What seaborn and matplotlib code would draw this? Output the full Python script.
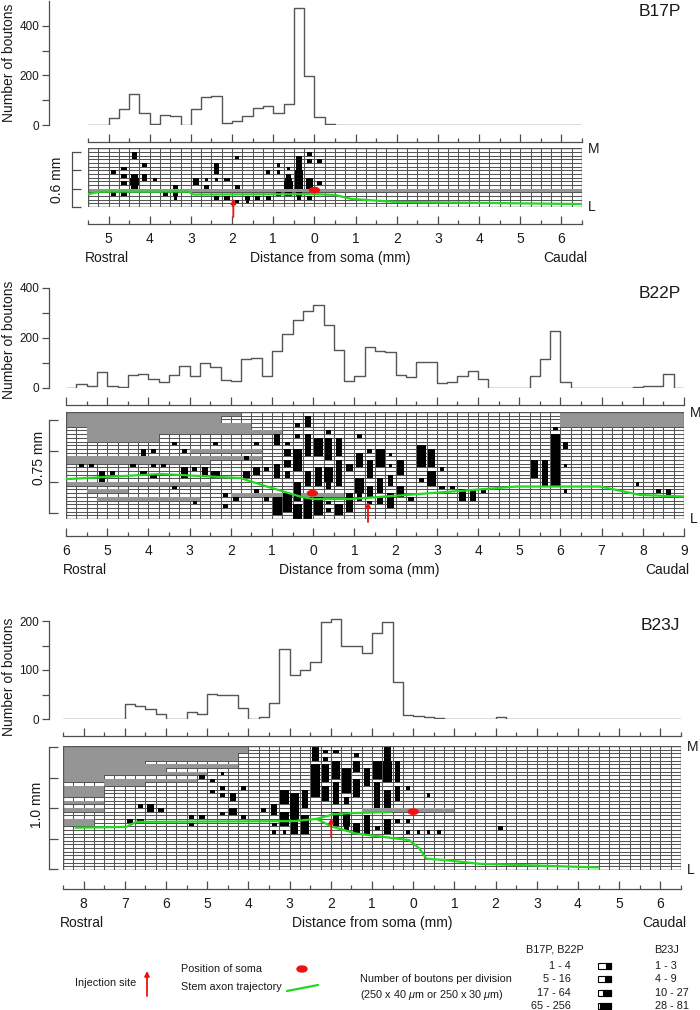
import numpy as np
import pandas as pd
import matplotlib
matplotlib.use("Agg")
import matplotlib.pyplot as plt
from matplotlib import font_manager
import seaborn as sns
from matplotlib.patches import Ellipse, Rectangle

# ------------------------------------------------------------------ data
# boutons per 250 um bin, read from the rostral edge of each map
b17p_counts = [0, 0, 27, 64, 123, 47, 4, 42, 35, 0, 64, 111, 117, 8, 17, 36,
               70, 75, 50, 85, 471, 199, 32, 3, 1, 0, 0, 0, 0, 0, 0, 0,
               0, 0, 0, 0, 0, 0, 0, 0, 0, 0, 0, 0, 0, 0, 0, 0]
b22p_counts = [0, 16, 9, 63, 8, 4, 52, 57, 36, 25, 53, 89, 49, 99, 84, 33,
               28, 116, 121, 47, 149, 216, 271, 307, 333, 251, 153, 27, 47, 163, 147, 145,
               53, 43, 104, 104, 20, 23, 49, 69, 36, 0, 0, 0, 0, 49, 116, 227,
               23, 0, 0, 0, 0, 0, 0, 3, 7, 9, 56, 2]
b23j_counts = [0, 0, 0, 0, 0, 0, 31, 26, 20, 10, 0, 0, 14, 10, 52, 50,
               48, 22, 0, 5, 32, 142, 89, 100, 116, 197, 205, 149, 149, 134, 175, 197,
               75, 8, 7, 5, 3, 0, 0, 0, 0, 0, 5, 0, 0, 0, 0, 0,
               0, 0, 0, 0, 0, 0, 0, 0, 0, 0, 0, 0]

# distance range of each map (mm, rostral negative)
b17p_range = (-5.5, 6.5)
b22p_range = (-6.0, 9.0)
b23j_range = (-8.5, 6.5)
b17p_rows, b22p_rows, b23j_rows = 16, 29, 34

# unreconstructed (gray) areas: first col, last col + 1, first row from top, last row + 1
b17p_gray = [(0, 48, 11, 12)]
b22p_gray = [(0, 15, 0, 4), (15, 17, 0, 1), (15, 18, 3, 4), (2, 18, 4, 6), (18, 21, 5, 6),
             (2, 9, 6, 8), (12, 19, 10, 11), (0, 14, 12, 14), (14, 19, 12, 13),
             (0, 14, 19, 20), (2, 6, 21, 22), (3, 13, 23, 24), (16, 27, 22, 23),
             (48, 60, 0, 4)]
b23j_gray = [(0, 17, 0, 4), (17, 18, 0, 2), (0, 8, 4, 8), (8, 17, 5, 6), (8, 10, 6, 8),
             (10, 14, 7, 8), (0, 4, 8, 10), (4, 8, 9, 11), (8, 13, 9, 10), (0, 4, 11, 14),
             (0, 4, 15, 16), (0, 4, 17, 18), (0, 3, 20, 22), (29, 38, 17, 18)]

# bouton cells: col, first row from top, last row from top, size class (1-4)
b17p_cells = [(4, 1, 2, 2), (5, 4, 4, 2), (3, 5, 5, 2), (2, 6, 6, 2), (3, 7, 7, 2),
              (4, 7, 7, 3), (4, 8, 9, 4), (4, 10, 10, 3), (5, 7, 8, 2), (6, 8, 8, 1),
              (3, 9, 9, 2), (2, 12, 12, 2), (3, 12, 12, 2), (7, 12, 12, 2), (8, 12, 12, 2),
              (8, 13, 13, 1), (8, 10, 10, 2), (10, 8, 8, 3), (10, 9, 9, 2), (11, 8, 8, 1),
              (11, 10, 10, 2), (12, 4, 6, 2), (12, 8, 8, 1), (13, 8, 8, 2), (14, 2, 2, 1),
              (14, 10, 10, 2), (12, 13, 13, 2), (13, 13, 13, 2), (14, 14, 14, 1),
              (15, 13, 13, 2), (15, 14, 14, 1), (16, 13, 13, 2), (17, 13, 13, 2),
              (17, 6, 6, 1), (18, 6, 6, 1), (19, 5, 5, 1), (18, 4, 4, 1), (19, 7, 7, 2),
              (19, 8, 8, 3), (19, 9, 10, 4), (20, 2, 2, 2), (20, 3, 5, 3), (20, 6, 10, 4),
              (21, 1, 1, 2), (21, 3, 3, 2), (21, 8, 10, 3), (22, 3, 3, 2), (22, 9, 9, 2),
              (18, 12, 12, 2), (19, 12, 12, 3), (20, 12, 12, 3), (20, 13, 13, 1),
              (21, 13, 13, 2)]
b22p_cells = [(1, 14, 14, 2), (2, 14, 14, 2), (3, 16, 18, 3), (4, 16, 16, 2), (6, 14, 14, 2),
              (7, 11, 11, 2), (7, 10, 10, 2), (8, 10, 10, 2), (11, 10, 10, 2), (7, 16, 16, 3),
              (8, 14, 14, 2), (8, 17, 17, 3), (9, 14, 14, 2), (10, 8, 8, 2), (10, 20, 20, 2),
              (11, 15, 17, 3), (12, 15, 15, 2), (12, 24, 24, 1), (13, 15, 16, 3), (14, 8, 8, 2),
              (14, 16, 17, 4), (15, 22, 22, 2), (15, 25, 25, 2), (16, 23, 23, 2),
              (17, 12, 12, 2), (17, 16, 17, 3), (18, 8, 8, 2), (18, 15, 16, 3), (18, 21, 21, 2),
              (19, 15, 15, 2), (19, 23, 23, 2),
              (20, 6, 8, 3), (20, 14, 17, 3), (20, 23, 27, 4),
              (21, 8, 8, 2), (21, 10, 11, 3), (21, 13, 14, 3), (21, 16, 17, 2), (21, 22, 26, 4),
              (22, 3, 3, 2), (22, 6, 6, 2), (22, 10, 15, 4), (22, 19, 23, 3), (22, 25, 28, 4),
              (23, 1, 3, 3), (23, 6, 11, 3), (23, 16, 19, 3), (23, 23, 28, 4),
              (24, 7, 11, 4), (24, 15, 19, 3), (24, 23, 27, 4),
              (25, 5, 5, 2), (25, 7, 12, 3), (25, 15, 18, 4), (25, 19, 20, 2), (25, 24, 24, 2),
              (25, 26, 26, 2), (26, 7, 11, 3), (26, 13, 19, 3), (26, 25, 27, 4),
              (27, 14, 15, 3), (27, 22, 26, 3), (28, 6, 6, 2), (28, 11, 14, 3), (28, 18, 21, 4),
              (28, 22, 23, 2), (29, 10, 10, 2), (29, 13, 17, 3), (29, 20, 22, 3), (29, 24, 24, 2),
              (30, 10, 14, 4), (30, 18, 21, 3), (30, 23, 24, 3), (31, 11, 11, 1), (31, 14, 14, 1),
              (31, 17, 19, 2), (31, 22, 25, 3), (32, 13, 16, 3), (32, 20, 22, 3), (33, 23, 23, 2),
              (34, 9, 14, 4), (34, 18, 18, 2), (35, 10, 14, 3), (35, 16, 19, 4), (36, 15, 15, 1),
              (36, 20, 20, 2), (37, 20, 20, 2), (38, 21, 23, 3), (39, 21, 23, 3), (40, 21, 21, 2),
              (45, 13, 17, 3), (46, 13, 19, 3), (47, 4, 4, 2), (47, 6, 19, 4), (48, 8, 9, 2),
              (48, 14, 14, 1), (48, 21, 21, 1), (55, 19, 19, 1), (57, 21, 21, 2), (58, 21, 22, 2)]
b23j_cells = [(7, 16, 16, 2), (8, 16, 17, 3), (9, 17, 17, 3), (6, 20, 20, 2), (7, 20, 20, 3),
              (12, 19, 19, 2), (12, 21, 21, 2), (13, 8, 8, 2), (13, 19, 19, 2), (14, 9, 9, 2),
              (14, 12, 12, 2), (15, 7, 7, 1), (15, 11, 11, 2), (15, 13, 13, 2), (15, 18, 18, 2),
              (16, 13, 14, 3), (16, 17, 18, 4), (17, 11, 11, 2), (17, 19, 19, 2), (19, 17, 17, 2),
              (20, 16, 18, 3), (20, 21, 21, 2), (20, 23, 23, 1), (21, 12, 15, 4), (21, 18, 21, 4),
              (21, 23, 23, 1), (22, 13, 19, 4), (22, 20, 23, 3), (23, 12, 16, 3), (23, 19, 23, 4),
              (24, 0, 3, 3), (25, 1, 1, 2), (25, 3, 3, 2), (26, 1, 1, 2), (28, 2, 2, 2),
              (31, 0, 3, 3), (24, 5, 13, 4), (25, 5, 9, 3), (25, 11, 14, 3), (26, 4, 8, 4),
              (26, 10, 15, 3), (27, 6, 12, 4), (27, 14, 15, 2), (28, 4, 6, 3), (28, 9, 13, 3),
              (29, 6, 10, 3), (30, 4, 8, 4), (30, 10, 16, 3), (31, 4, 9, 4), (31, 12, 16, 3),
              (32, 4, 9, 2), (32, 11, 14, 2), (33, 11, 11, 1), (35, 13, 13, 1),
              (26, 18, 21, 3), (27, 18, 21, 3), (27, 22, 22, 2), (28, 21, 23, 3), (29, 19, 23, 3),
              (30, 22, 22, 2), (31, 20, 23, 3), (32, 20, 20, 2), (33, 20, 20, 1), (33, 23, 23, 1),
              (34, 23, 23, 1), (35, 23, 23, 1), (36, 23, 23, 1), (42, 22, 22, 2)]

# stem axon trajectory: distance (mm) and height (rows above the lateral edge)
b17p_axon_x = [-5.5, -5.2, -3.06, -2.94, 0.0, 0.49, 0.9, 1.94, 6.5]
b17p_axon_y = [3.5, 4.2, 4.2, 3.4, 3.5, 3.3, 2.2, 1.4, 0.8]
b22p_axon_x = [-6.0, -3.7, -1.77, -1.12, -0.32, 0.0, 0.9, 3.33, 4.94, 6.97, 7.94, 9.0]
b22p_axon_y = [10.8, 12.2, 11.1, 8.8, 6.1, 5.4, 5.4, 7.4, 8.8, 8.8, 6.5, 6.1]
b23j_axon_x = [-8.22, -6.97, -6.72, -2.89, -2.35, -1.95, -1.38, -0.1, 0.15, 0.32, 0.8, 1.6, 4.5]
b23j_axon_y = [11.6, 11.8, 13.2, 13.4, 14.0, 11.8, 10.0, 8.2, 5.9, 3.1, 2.7, 1.7, 0.7]
b23j_branch_x = [-2.35, -1.92, -1.5, -0.55]
b23j_branch_y = [14.0, 15.3, 15.6, 15.9]

# soma position (mm, rows) and injection site (mm, arrow tail row, arrow head row)
b17p_soma = (0.0, 4.6)
b22p_soma = (-0.02, 7.0)
b23j_soma = (0.0, 16.0)
b17p_inject = (-1.97, -2.7, 2.3)
b22p_inject = (1.33, -0.8, 4.6)
b23j_inject = (-1.99, 9.0, 14.3)

size_classes = [1, 2, 3, 4]
b17p_b22p_classes = ["1 - 4", "5 - 16", "17 - 64", "65 - 256"]
b23j_classes = ["1 - 3", "4 - 9", "10 - 27", "28 - 81"]

# ------------------------------------------------------------------ style
sns.set_theme(style="ticks")
plt.rcParams['font.family'] = ['Liberation Sans', 'DejaVu Sans']
plt.rcParams['mathtext.fontset'] = 'custom'
plt.rcParams['mathtext.it'] = 'Liberation Sans:italic'
plt.rcParams['mathtext.rm'] = 'Liberation Sans'

installed = {f.name for f in font_manager.fontManager.ttflist}
if 'Liberation Sans Narrow' in installed:
    NUM_FONT, NUM_SIZE = 'Liberation Sans Narrow', 10
else:
    NUM_FONT, NUM_SIZE = 'Liberation Sans', 8.5

W, H = 700, 1010
PT = 0.72          # points per pixel at dpi 100
AX_COL = '#4d4d4d'
TXT = '#1a1a1a'
GRID_COL = '#555555'
GRAY = '#959595'
GREEN = '#22d822'
FRAC = {1: 0.35, 2: 0.5, 3: 0.65, 4: 0.85}

fig = plt.figure(figsize=(W / 100, H / 100), dpi=100)


def add_ax(x0, y0, x1, y1):
    return fig.add_axes([x0 / W, 1 - y1 / H, (x1 - x0) / W, (y1 - y0) / H])


def ftext(x, y, s, **kw):
    kw.setdefault('color', TXT)
    kw.setdefault('fontsize', 10)
    fig.text(x / W, 1 - y / H, s, **kw)


def draw_hist(box, rng, counts, ymax, spine_top, yticks, ylabels, left_out, bottom_out):
    ax = add_ax(*box)
    edges = rng[0] + 0.25 * np.arange(len(counts) + 1)
    df = pd.DataFrame({'dist': edges[:-1] + 0.125, 'boutons': counts})
    sns.histplot(data=df, x='dist', weights='boutons', bins=list(edges), element="step",
                 fill=False, color='#555555', linewidth=1.0, ax=ax)
    ax.set_xlim(*rng)
    ax.set_ylim(0, ymax)
    ax.set_xlabel('')
    ax.set_ylabel('')
    for s in ['top', 'right']:
        ax.spines[s].set_visible(False)
    ax.spines['left'].set_position(('outward', left_out * PT))
    ax.spines['left'].set_bounds(0, spine_top)
    ax.spines['bottom'].set_position(('outward', bottom_out * PT))
    for s in ['left', 'bottom']:
        ax.spines[s].set_color(AX_COL)
        ax.spines[s].set_linewidth(0.9)
    ax.set_yticks(yticks)
    ax.set_yticklabels(ylabels, fontfamily=NUM_FONT, fontsize=NUM_SIZE)
    ax.tick_params(axis='y', direction='out', length=7 * PT, width=0.9, color=AX_COL,
                   labelcolor=TXT, pad=2)
    ax.set_xticks(np.arange(np.ceil(rng[0]), rng[1] + 0.01, 1.0))
    ax.set_xticks(np.arange(rng[0], rng[1] + 0.01, 0.5), minor=True)
    ax.tick_params(axis='x', which='major', direction='in', length=8 * PT, width=0.9,
                   color=AX_COL, labelbottom=False)
    ax.tick_params(axis='x', which='minor', direction='in', length=4 * PT, width=0.9,
                   color=AX_COL)
    ax.patch.set_alpha(0)
    return ax


def draw_map(box, rng, nrows, gray, cells, axon, branch, soma, inject, bracket,
             left_out, bottom_out):
    ax = add_ax(*box)
    ncols = int(round((rng[1] - rng[0]) / 0.25))
    ax.set_xlim(*rng)
    ax.set_ylim(0, nrows)
    xs = rng[0] + 0.25 * np.arange(ncols + 1)
    ax.vlines(xs, 0, nrows, color=GRID_COL, lw=0.75, zorder=2)
    ax.hlines(np.arange(nrows + 1), rng[0], rng[1], color=GRID_COL, lw=0.75, zorder=2)
    # gray areas
    gx = [rng[0] + g[0] * 0.25 for g in gray]
    gw = [(g[1] - g[0]) * 0.25 for g in gray]
    gb = [nrows - g[3] for g in gray]
    gh = [g[3] - g[2] for g in gray]
    ax.bar(gx, gh, width=gw, bottom=gb, align='edge', color=GRAY, linewidth=0, zorder=3)
    # bouton cells
    cx, cy, cw = [], [], []
    for col, r0, r1, lev in cells:
        for rt in range(r0, r1 + 1):
            cx.append(rng[0] + (col + 0.5) * 0.25)
            cy.append(nrows - 1 - rt)
            cw.append(0.25 * FRAC[lev])
    ax.bar(cx, 1.0, width=cw, bottom=cy, color='black', linewidth=0, zorder=4)
    ax.add_patch(Rectangle((rng[0], 0), rng[1] - rng[0], nrows, fill=False,
                           ec=GRID_COL, lw=1.0, zorder=5))
    # stem axon, soma, injection
    ax.plot(axon[0], axon[1], color=GREEN, lw=1.6, zorder=6, solid_capstyle='butt')
    if branch is not None:
        ax.plot(branch[0], branch[1], color=GREEN, lw=1.6, zorder=6)
    ax.add_patch(Ellipse(soma, width=0.24, height=1.45, color='#ee1111', zorder=7))
    ax.annotate('', xy=(inject[0], inject[2]), xytext=(inject[0], inject[1]),
                arrowprops=dict(arrowstyle='-|>', color='#ee1111', lw=1.3,
                                mutation_scale=7, shrinkA=0, shrinkB=0),
                annotation_clip=False, zorder=8)
    # axes
    for s in ['top', 'right']:
        ax.spines[s].set_visible(False)
    ax.spines['left'].set_position(('outward', left_out * PT))
    ax.spines['left'].set_bounds(bracket[0], bracket[-1])
    ax.spines['bottom'].set_position(('outward', bottom_out * PT))
    for s in ['left', 'bottom']:
        ax.spines[s].set_color(AX_COL)
        ax.spines[s].set_linewidth(0.9)
    ax.set_yticks(bracket)
    ax.set_yticklabels([])
    ax.tick_params(axis='y', direction='in', length=9 * PT, width=0.9, color=AX_COL)
    major = np.arange(np.ceil(rng[0]), rng[1] + 0.01, 1.0)
    ax.set_xticks(major)
    ax.set_xticklabels([str(int(abs(v))) for v in major])
    ax.set_xticks(np.arange(rng[0], rng[1] + 0.01, 0.5), minor=True)
    ax.tick_params(axis='x', which='major', direction='in', length=8 * PT, width=0.9,
                   color=AX_COL, labelsize=10, labelcolor=TXT, pad=5.5)
    ax.tick_params(axis='x', which='minor', direction='in', length=4 * PT, width=0.9,
                   color=AX_COL)
    ax.patch.set_alpha(0)
    return ax


panels = [
    dict(name='B17P', rng=b17p_range, counts=b17p_counts, rows=b17p_rows, gray=b17p_gray,
         cells=b17p_cells, axon=(b17p_axon_x, b17p_axon_y), branch=None, soma=b17p_soma,
         inject=b17p_inject, hist_box=(88, 1, 582, 125), ymax=500, spine_top=500,
         yticks=[0, 100, 200, 300, 400], ylabels=['0', '', '200', '', '400'],
         hist_left=39, hist_bottom=17, map_box=(88, 148.3, 582, 207), bracket=[0, 5, 10, 15],
         map_left=16, map_bottom=17, scale='0.6 mm', scale_xy=(57, 180), ylab_y=63,
         name_y=12, dist_x=330),
    dict(name='B22P', rng=b22p_range, counts=b22p_counts, rows=b22p_rows, gray=b22p_gray,
         cells=b22p_cells, axon=(b22p_axon_x, b22p_axon_y), branch=None, soma=b22p_soma,
         inject=b22p_inject, hist_box=(66, 288, 684, 388), ymax=400, spine_top=400,
         yticks=[0, 100, 200, 300, 400], ylabels=['0', '', '200', '', '400'],
         hist_left=17, hist_bottom=17, map_box=(66, 412, 684, 519),
         bracket=[1.7, 10.03, 18.37, 26.7], map_left=17, map_bottom=17, scale='0.75 mm',
         scale_xy=(39, 458), ylab_y=340, name_y=293, dist_x=359),
    dict(name='B23J', rng=b23j_range, counts=b23j_counts, rows=b23j_rows, gray=b23j_gray,
         cells=b23j_cells, axon=(b23j_axon_x, b23j_axon_y),
         branch=(b23j_branch_x, b23j_branch_y), soma=b23j_soma, inject=b23j_inject,
         hist_box=(63, 616.1, 681, 719), ymax=210, spine_top=200,
         yticks=[0, 50, 100, 150, 200], ylabels=['0', '', '100', '', '200'],
         hist_left=14, hist_bottom=17, map_box=(63, 746, 681, 870),
         bracket=[0.3, 8.63, 16.97, 25.3, 33.63], map_left=14, map_bottom=19,
         scale='1.0 mm', scale_xy=(37, 805), ylab_y=677, name_y=625, dist_x=372),
]

for p in panels:
    draw_hist(p['hist_box'], p['rng'], p['counts'], p['ymax'], p['spine_top'],
              p['yticks'], p['ylabels'], p['hist_left'], p['hist_bottom'])
    draw_map(p['map_box'], p['rng'], p['rows'], p['gray'], p['cells'], p['axon'],
             p['branch'], p['soma'], p['inject'], p['bracket'], p['map_left'], p['map_bottom'])
    x0, y0, x1, y1 = p['map_box']
    spine_y = y1 + p['map_bottom']
    ftext(9, p['ylab_y'], 'Number of boutons', rotation=90, ha='center', va='center')
    ftext(p['scale_xy'][0], p['scale_xy'][1], p['scale'], rotation=90, ha='center', va='center')
    ftext(x1 + 6, y0 + 1, 'M', ha='left', va='center')
    ftext(x1 + 6, y1, 'L', ha='left', va='center')
    ftext(660, p['name_y'], p['name'], fontsize=12.5, ha='center', va='center')
    ftext(x0 - 3, spine_y + 34, 'Rostral', ha='left', va='center')
    ftext(x1 + 5, spine_y + 34, 'Caudal', ha='right', va='center')
    ftext(p['dist_x'], spine_y + 34, 'Distance from soma (mm)', ha='center', va='center')

# ------------------------------------------------------------------ legend
lg = fig.add_axes([0, 0, 1, 75 / H])
lg.set_xlim(0, W)
lg.set_ylim(1010, 935)
lg.axis('off')
LF = 7.8
lg.text(136, 983, 'Injection site', fontsize=LF, ha='right', va='center', color=TXT)
lg.annotate('', xy=(147, 971), xytext=(147, 996),
            arrowprops=dict(arrowstyle='-|>', color='#ee1111', lw=1.3, mutation_scale=7,
                            shrinkA=0, shrinkB=0))
lg.text(181, 969, 'Position of soma', fontsize=LF, ha='left', va='center', color=TXT)
lg.add_patch(Ellipse((302, 969), 10, 6, color='#ee1111'))
lg.text(181, 987, 'Stem axon trajectory', fontsize=LF, ha='left', va='center', color=TXT)
lg.plot([287, 318], [991, 985], color=GREEN, lw=1.6)
lg.text(360, 979, 'Number of boutons per division', fontsize=LF, ha='left', va='center',
        color=TXT)
lg.text(360, 995, r'(250 x 40 $\mathit{\mu}$m or 250 x 30 $\mathit{\mu}$m)', fontsize=LF,
        ha='left', va='center', color=TXT)
lg.text(555, 950, 'B17P, B22P', fontsize=LF, ha='center', va='center', color=TXT)
lg.text(654, 950, 'B23J', fontsize=LF, ha='left', va='center', color=TXT)
for i, (lev, a, b) in enumerate(zip(size_classes, b17p_b22p_classes, b23j_classes)):
    yy = 966 + i * 13.4
    lg.text(571, yy, a, fontsize=LF, ha='right', va='center', color=TXT)
    lg.text(655, yy, b, fontsize=LF, ha='left', va='center', color=TXT)
    lg.add_patch(Rectangle((598, yy - 3), 13, 6, fill=True, fc='white', ec='black', lw=0.8))
    fw = 13 * FRAC[lev]
    lg.add_patch(Rectangle((598 + 13 - fw, yy - 3), fw, 6, fc='black', ec='black', lw=0.8))

fig.savefig('out.png', dpi=100)
